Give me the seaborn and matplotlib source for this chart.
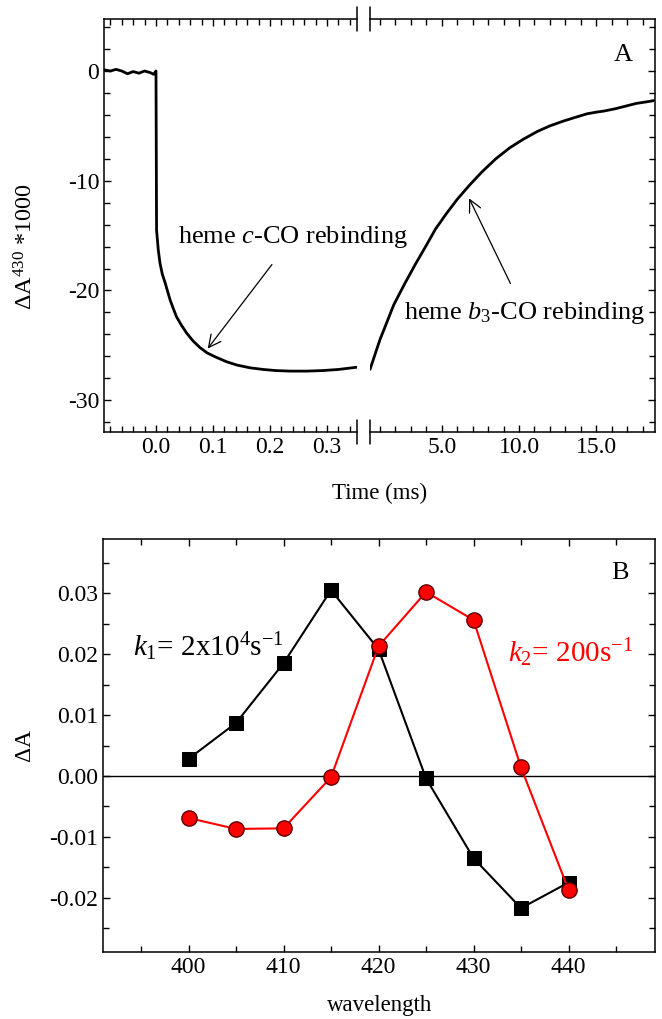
import numpy as np
import pandas as pd
import matplotlib
matplotlib.use("Agg")
import matplotlib.pyplot as plt
import seaborn as sns
from matplotlib.ticker import MultipleLocator, FixedLocator, FuncFormatter

# ---------------- data ----------------
# Panel A, fast part (ms)
t_fast = [-0.090, -0.080, -0.070, -0.060, -0.050, -0.040, -0.030, -0.020, -0.010, -0.004, 0.000,
          0.001, 0.004, 0.007, 0.011, 0.016, 0.021, 0.025, 0.030, 0.036, 0.045, 0.054, 0.065,
          0.077, 0.090, 0.106, 0.124, 0.142, 0.165, 0.188, 0.210, 0.235, 0.265, 0.293, 0.320, 0.352]
a_fast = [0.1, 0.0, 0.15, 0.0, -0.25, -0.05, -0.2, 0.0, -0.15, -0.3, 0.0,
          -14.5, -16.3, -17.5, -18.5, -19.3, -20.2, -20.9, -21.6, -22.4, -23.2, -23.9, -24.6,
          -25.2, -25.7, -26.1, -26.5, -26.8, -27.05, -27.2, -27.3, -27.35, -27.35, -27.3, -27.2, -27.0]
# Panel A, slow part (ms)
t_slow = [0.36, 1.0, 1.9, 2.6, 3.3, 4.0, 4.6, 5.3, 6.0, 6.8, 7.6, 8.5, 9.4, 10.3, 11.2, 12.0,
          12.9, 13.7, 14.4, 15.0, 15.5, 16.2, 16.9, 17.6, 18.3, 18.7]
a_slow = [-27.2, -24.5, -21.3, -19.4, -17.6, -15.9, -14.4, -13.0, -11.7, -10.4, -9.2, -8.0, -7.0,
          -6.2, -5.5, -5.0, -4.55, -4.2, -3.9, -3.75, -3.65, -3.45, -3.2, -2.95, -2.8, -2.7]

# Panel B
wavelength = [400, 405, 410, 415, 420, 425, 430, 435, 440]
k1_vals = [0.0028, 0.0087, 0.0185, 0.0305, 0.0208, -0.0004, -0.0135, -0.0217, -0.0175]
k2_vals = [-0.0069, -0.0087, -0.0086, -0.0002, 0.0213, 0.0302, 0.0256, 0.0014, -0.0187]

xt_fast = [0.0, 0.1, 0.2, 0.3]
xt_slow = [5.0, 10.0, 15.0]
yt_A = [0, -10, -20, -30]

# ---------------- style ----------------
sns.set_theme(style="ticks")
plt.rcParams['font.family'] = ['Liberation Serif', 'DejaVu Serif']
plt.rcParams['mathtext.fontset'] = 'custom'
plt.rcParams['mathtext.rm'] = 'Liberation Serif'
plt.rcParams['mathtext.it'] = 'Liberation Serif:italic'
plt.rcParams['axes.unicode_minus'] = False
plt.rcParams['axes.linewidth'] = 1.1
for k in ('text.color', 'axes.labelcolor', 'xtick.color', 'ytick.color', 'axes.edgecolor'):
    plt.rcParams[k] = 'black'

W, H = 662, 1019
fig = plt.figure(figsize=(W / 100, H / 100), dpi=100)

def fr(x0, y0, x1, y1):
    return [x0 / W, 1 - y1 / H, (x1 - x0) / W, (y1 - y0) / H]

axL = fig.add_axes(fr(104, 19, 357, 432))
axR = fig.add_axes(fr(370, 19, 655, 432))
axB = fig.add_axes(fr(103, 539, 655, 952))
for ax in (axL, axR):
    ax.patch.set_visible(False)

TFS = 17

def style_ticks(ax, left=True, right=True):
    ax.tick_params(which='both', direction='in', top=True, bottom=True,
                   left=left, right=right, labelsize=TFS, colors='black', width=1.0)
    ax.tick_params(which='major', length=5)
    ax.tick_params(which='minor', length=4)

# ---------------- Panel A ----------------
dfF = pd.DataFrame({'t': t_fast, 'a': a_fast})
dfS = pd.DataFrame({'t': t_slow, 'a': a_slow})
sns.lineplot(data=dfF, x='t', y='a', ax=axL, color='black', lw=2.0, sort=False, estimator=None)
sns.lineplot(data=dfS, x='t', y='a', ax=axR, color='black', lw=2.0, sort=False, estimator=None)

for ax in (axL, axR):
    ax.set_ylim(-32.9, 4.74)
    ax.set_xlabel('')
    ax.set_ylabel('')
    ax.yaxis.set_major_locator(FixedLocator(yt_A))
    ax.yaxis.set_minor_locator(MultipleLocator(2))

axL.set_xlim(-0.0912, 0.3526)
axL.xaxis.set_major_locator(FixedLocator(xt_fast))
axL.xaxis.set_minor_locator(MultipleLocator(0.02))
axL.xaxis.set_major_formatter(FuncFormatter(lambda v, p: f"{v:.1f}"))
axL.yaxis.set_major_formatter(FuncFormatter(lambda v, p: f"{v:.0f}"))
axL.spines['right'].set_visible(False)
style_ticks(axL, left=True, right=False)

axR.set_xlim(0.36, 18.8)
axR.xaxis.set_major_locator(FixedLocator(xt_slow))
axR.xaxis.set_minor_locator(MultipleLocator(1))
axR.xaxis.set_major_formatter(FuncFormatter(lambda v, p: f"{v:.1f}"))
axR.spines['left'].set_visible(False)
style_ticks(axR, left=False, right=True)
axR.tick_params(labelleft=False, labelright=False)

# break marks
for ax, xf in ((axL, 1.0), (axR, 0.0)):
    for yf in (0.0, 1.0):
        ax.plot([xf, xf], [yf - 0.03, yf + 0.03], transform=ax.transAxes,
                color='black', lw=1.1, clip_on=False)

axL.text(-0.31, 0.45, r'$\Delta$A$^{430}$ *1000', transform=axL.transAxes, rotation=90,
         ha='center', va='center', fontsize=17.5)
fig.text(380 / W, 1 - 493 / H, 'Time (ms)', ha='center', va='center', fontsize=16.5)
axR.text(0.888, 0.913, 'A', transform=axR.transAxes, ha='center', va='center', fontsize=19)

axL.annotate('heme $c$-CO rebinding', xy=(0.0907, -25.3), xytext=(0.240, -15.15),
             ha='center', va='center', fontsize=19, annotation_clip=False, zorder=10,
             arrowprops=dict(arrowstyle='->', color='black', lw=0.9,
                             shrinkA=10, shrinkB=0, mutation_scale=22))
axR.annotate('heme $b_3$-CO rebinding', xy=(6.77, -11.6), xytext=(10.39, -22.1),
             ha='center', va='center', fontsize=19, annotation_clip=False, zorder=10,
             arrowprops=dict(arrowstyle='->', color='black', lw=0.9,
                             shrinkA=11, shrinkB=0, mutation_scale=22))

# ---------------- Panel B ----------------
dfB = pd.DataFrame({'wl': wavelength, 'k1': k1_vals, 'k2': k2_vals})
axB.axhline(0, color='black', lw=1.0, zorder=1)
sns.lineplot(data=dfB, x='wl', y='k1', ax=axB, color='black', lw=1.5, marker='s',
             markersize=10, markerfacecolor='black', markeredgecolor='black', zorder=3)
sns.lineplot(data=dfB, x='wl', y='k2', ax=axB, color='#ff0000', lw=1.5, marker='o',
             markersize=11, markerfacecolor='#ff0000', markeredgecolor='#5a0000',
             markeredgewidth=1.0, zorder=4)
axB.set_xlim(391, 449.1)
axB.set_ylim(-0.0289, 0.0389)
axB.xaxis.set_major_locator(MultipleLocator(10))
axB.xaxis.set_minor_locator(MultipleLocator(5))
axB.yaxis.set_major_locator(MultipleLocator(0.01))
axB.yaxis.set_minor_locator(MultipleLocator(0.005))
axB.yaxis.set_major_formatter(FuncFormatter(lambda v, p: f"{v:.2f}" if abs(v) > 1e-9 else "0.00"))
axB.xaxis.set_major_formatter(FuncFormatter(lambda v, p: f"{v:.0f}"))
style_ticks(axB)
axB.set_xlabel('')
axB.set_ylabel('')
axB.text(-0.14, 0.5, r'$\Delta$A', transform=axB.transAxes, rotation=90,
         ha='center', va='center', fontsize=17)
fig.text(380 / W, 1 - 1006 / H, 'wavelength', ha='center', va='center', fontsize=16.5)
axB.text(0.937, 0.918, 'B', transform=axB.transAxes, ha='center', va='center', fontsize=19)
axB.text(394.2, 0.0212, r'$k_1$= 2x10$^4$s$^{-1}$', ha='left', va='center', fontsize=21,
         color='black')
axB.text(433.6, 0.0203, r'$k_2$= 200s$^{-1}$', ha='left', va='center', fontsize=21,
         color='#ff0000')

fig.savefig('out.png', dpi=100)
